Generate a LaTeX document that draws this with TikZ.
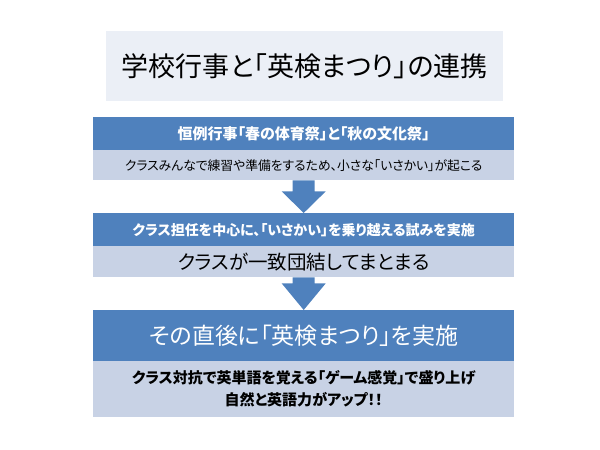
\documentclass[tikz,border=0pt]{standalone}
\usepackage{fontspec}
\setmainfont[RawFeature=+palt]{Noto Sans CJK JP}
\usetikzlibrary{calc}

\definecolor{hdblue}{HTML}{4F81BD}
\definecolor{bodyblue}{HTML}{C8D2E5}
\definecolor{titlebg}{HTML}{EBEFF6}

\newcommand{\fsz}[1]{\fontsize{#1}{#1}\selectfont}

\tikzset{
  header/.style={fill=hdblue, text=white, minimum width=421pt, inner sep=0pt, anchor=north west},
  bodybox/.style={fill=bodyblue, text=black, minimum width=421pt, inner sep=0pt, anchor=north west},
}

\begin{document}
\begin{tikzpicture}[x=1pt, y=-1pt]
  \useasboundingbox (0,0) rectangle (600,450);

  % Title
  \node[fill=titlebg, minimum width=397pt, minimum height=70pt, inner sep=0pt, anchor=north west, font=\fsz{27}] (title) at (106,31) {学校行事と「英検まつり」の連携};

  % Step 1
  \node[header, minimum height=33pt, font=\bfseries\fsz{15}] (head1) at (93,117) {恒例行事「春の体育祭」と「秋の文化祭」};
  \node[bodybox, minimum height=30pt, font=\fsz{12.8}] (body1) at (93,150) {クラスみんなで練習や準備をするため、小さな「いさかい」が起こる};

  % Step 2
  \node[header, minimum height=33pt, font=\bfseries\fsz{14}] (head2) at (93,213) {クラス担任を中心に、「いさかい」を乗り越える試みを実施};
  \node[bodybox, minimum height=31pt, font=\fsz{19.5}] (body2) at (93,246) {クラスが一致団結してまとまる};

  % Step 3
  \node[header, minimum height=51pt, font=\fsz{23}] (head3) at (93,310) {その直後に「英検まつり」を実施};
  \node[bodybox, minimum height=56pt, align=center, font=\bfseries\fontsize{15}{22}\selectfont] (body3) at (93,361) {クラス対抗で英単語を覚える「ゲーム感覚」で盛り上げ\\自然と英語力がアップ！！};

  % Arrows
  \fill[hdblue] ($(body1.south)+(-11,0)$) -- ($(body1.south)+(11,0)$) -- ++(0,11) -- ++(11,0) -- (head2.north)
    -- ($(body1.south)+(-22,11)$) -- ($(body1.south)+(-11,11)$) -- cycle;
  \fill[hdblue] ($(body2.south)+(-11,0)$) -- ($(body2.south)+(11,0)$) -- ++(0,6) -- ++(11,0) -- (head3.north)
    -- ($(body2.south)+(-22,6)$) -- ($(body2.south)+(-11,6)$) -- cycle;
\end{tikzpicture}
\end{document}
